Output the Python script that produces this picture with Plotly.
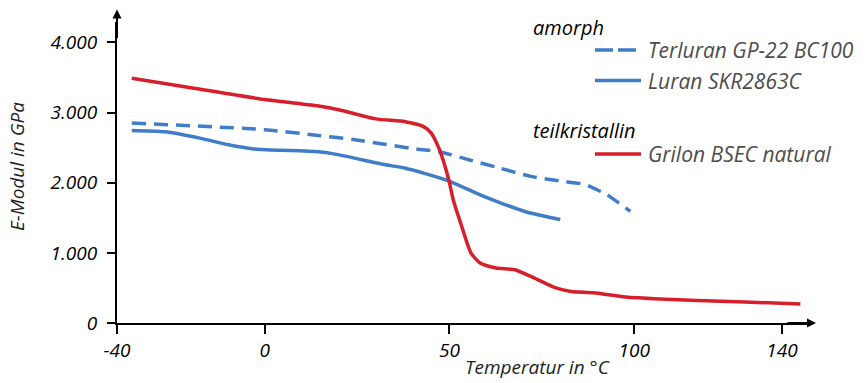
import plotly.graph_objects as go

# ---------------- data (temperature in °C, modulus in MPa) ----------------
temp_terluran = [-36, 0, 15, 24, 41, 47, 55, 63.5, 72, 80.5, 86.6, 90.9, 92.6, 99]
emod_terluran = [2850, 2755, 2670, 2615, 2480, 2445, 2330, 2210, 2090, 2020, 1975, 1875, 1830, 1590]

temp_luran = [-36, -27, -17.6, -9.8, -2.9, 1.7, 7, 14.6, 19.8, 32.7, 37.8, 49, 59.3, 70.4, 80]
emod_luran = [2745, 2725, 2635, 2540, 2480, 2465, 2460, 2440, 2400, 2255, 2210, 2040, 1805, 1590, 1475]

temp_grilon = [-36, -20, 0, 15, 20, 30, 38, 43, 45, 47.3, 49.8, 51, 53.3, 55.8, 58.3, 62.6,
               67.7, 72, 78.8, 83, 89, 97.7, 107, 117, 130, 145]
emod_grilon = [3490, 3355, 3185, 3090, 3040, 2910, 2870, 2800, 2710, 2470, 2045, 1760, 1380, 1000, 855, 785,
               760, 665, 500, 450, 430, 370, 342, 322, 300, 270]

series_names = ["Terluran GP-22 BC100", "Luran SKR2863C", "Grilon BSEC natural"]
group_names = ["amorph", "teilkristallin"]

x_ticks = [-40, 0, 50, 100, 140]
x_tick_labels = ["-40", "0", "50", "100", "140"]
y_ticks = [0, 1000, 2000, 3000, 4000]
y_tick_labels = ["0", "1.000", "2.000", "3.000", "4.000"]

# ---------------- styling ----------------
RED = "#d71f2b"
BLUE = "#3f7dc8"
FONT = "Open Sans"
W, H = 867, 383
L, R, T, B = 117, 55, 22, 60
PW, PH = W - L - R, H - T - B


def px_x(p):
    return (p - L) / PW


def px_y(p):
    return (H - B - p) / PH


fig = go.Figure()
fig.add_trace(go.Scatter(x=temp_terluran, y=emod_terluran, mode="lines", name=series_names[0],
                         line=dict(color=BLUE, width=3.5, dash="14px,8px", shape="spline", smoothing=0.7),
                         showlegend=False))
fig.add_trace(go.Scatter(x=temp_luran, y=emod_luran, mode="lines", name=series_names[1],
                         line=dict(color=BLUE, width=3.5, shape="spline", smoothing=0.7),
                         showlegend=False))
fig.add_trace(go.Scatter(x=temp_grilon, y=emod_grilon, mode="lines", name=series_names[2],
                         line=dict(color=RED, width=3.5, shape="spline", smoothing=0.6),
                         showlegend=False))

tickfont = dict(family=FONT, size=19, color="black", style="italic")
fig.update_layout(
    width=W, height=H,
    margin=dict(l=L, r=R, t=T, b=B, pad=0),
    paper_bgcolor="white", plot_bgcolor="white",
    xaxis=dict(range=[-40, -40 + PW / 3.694], showgrid=False, zeroline=False,
               showline=True, linecolor="black", linewidth=2,
               ticks="outside", ticklen=9, tickwidth=2, tickcolor="black",
               tickvals=x_ticks, ticktext=x_tick_labels, tickfont=tickfont),
    yaxis=dict(range=[0, PH / 0.07015], showgrid=False, zeroline=False,
               showline=True, linecolor="black", linewidth=2,
               ticks="outside", ticklen=8, tickwidth=2, tickcolor="black",
               tickvals=y_ticks, ticktext=y_tick_labels, tickfont=tickfont,
               ticklabelstandoff=6),
)

ann = []
# axis arrows
ann.append(dict(x=0, y=px_y(9.5), xref="paper", yref="paper", text="", showarrow=True,
                ax=0, ay=30, arrowhead=2, arrowsize=0.9, arrowwidth=2, arrowcolor="black"))
ann.append(dict(x=px_x(816), y=0, xref="paper", yref="paper", text="", showarrow=True,
                ax=-30, ay=0, arrowhead=2, arrowsize=0.9, arrowwidth=2, arrowcolor="black"))
# axis titles
ann.append(dict(x=px_x(17), y=px_y(167), xref="paper", yref="paper", text="E-Modul in GPa",
                showarrow=False, textangle=-90, xanchor="center", yanchor="middle",
                font=dict(family=FONT, size=19, color="#222222", style="italic")))
ann.append(dict(x=px_x(537), y=px_y(367), xref="paper", yref="paper", text="Temperatur in °C",
                showarrow=False, xanchor="center", yanchor="middle",
                font=dict(family=FONT, size=19, color="#222222", style="italic")))
# legend headers
hfont = dict(family=FONT, size=20, color="black", style="italic")
ann.append(dict(x=px_x(531), y=px_y(27), xref="paper", yref="paper", text=group_names[0],
                showarrow=False, xanchor="left", yanchor="middle", font=hfont))
ann.append(dict(x=px_x(531), y=px_y(130), xref="paper", yref="paper", text=group_names[1],
                showarrow=False, xanchor="left", yanchor="middle", font=hfont))
# legend items
lfont = dict(family=FONT, size=21, color="#4d4d4d", style="italic")
legend_rows = [(50, BLUE, "18px,5px"), (80.5, BLUE, "solid"), (154, RED, "solid")]
shapes = []
for name, (yy, col, dash) in zip(series_names, legend_rows):
    ann.append(dict(x=px_x(646), y=px_y(yy), xref="paper", yref="paper", text=name,
                    showarrow=False, xanchor="left", yanchor="middle", font=lfont))
    shapes.append(dict(type="line", xref="paper", yref="paper", x0=px_x(595), x1=px_x(641),
                       y0=px_y(yy), y1=px_y(yy), line=dict(color=col, width=3.5, dash=dash)))

fig.update_layout(annotations=ann, shapes=shapes)
fig.write_html("out.html", config={"displayModeBar": False},
               post_script="document.body.style.margin='0px';document.body.style.padding='0px';")
